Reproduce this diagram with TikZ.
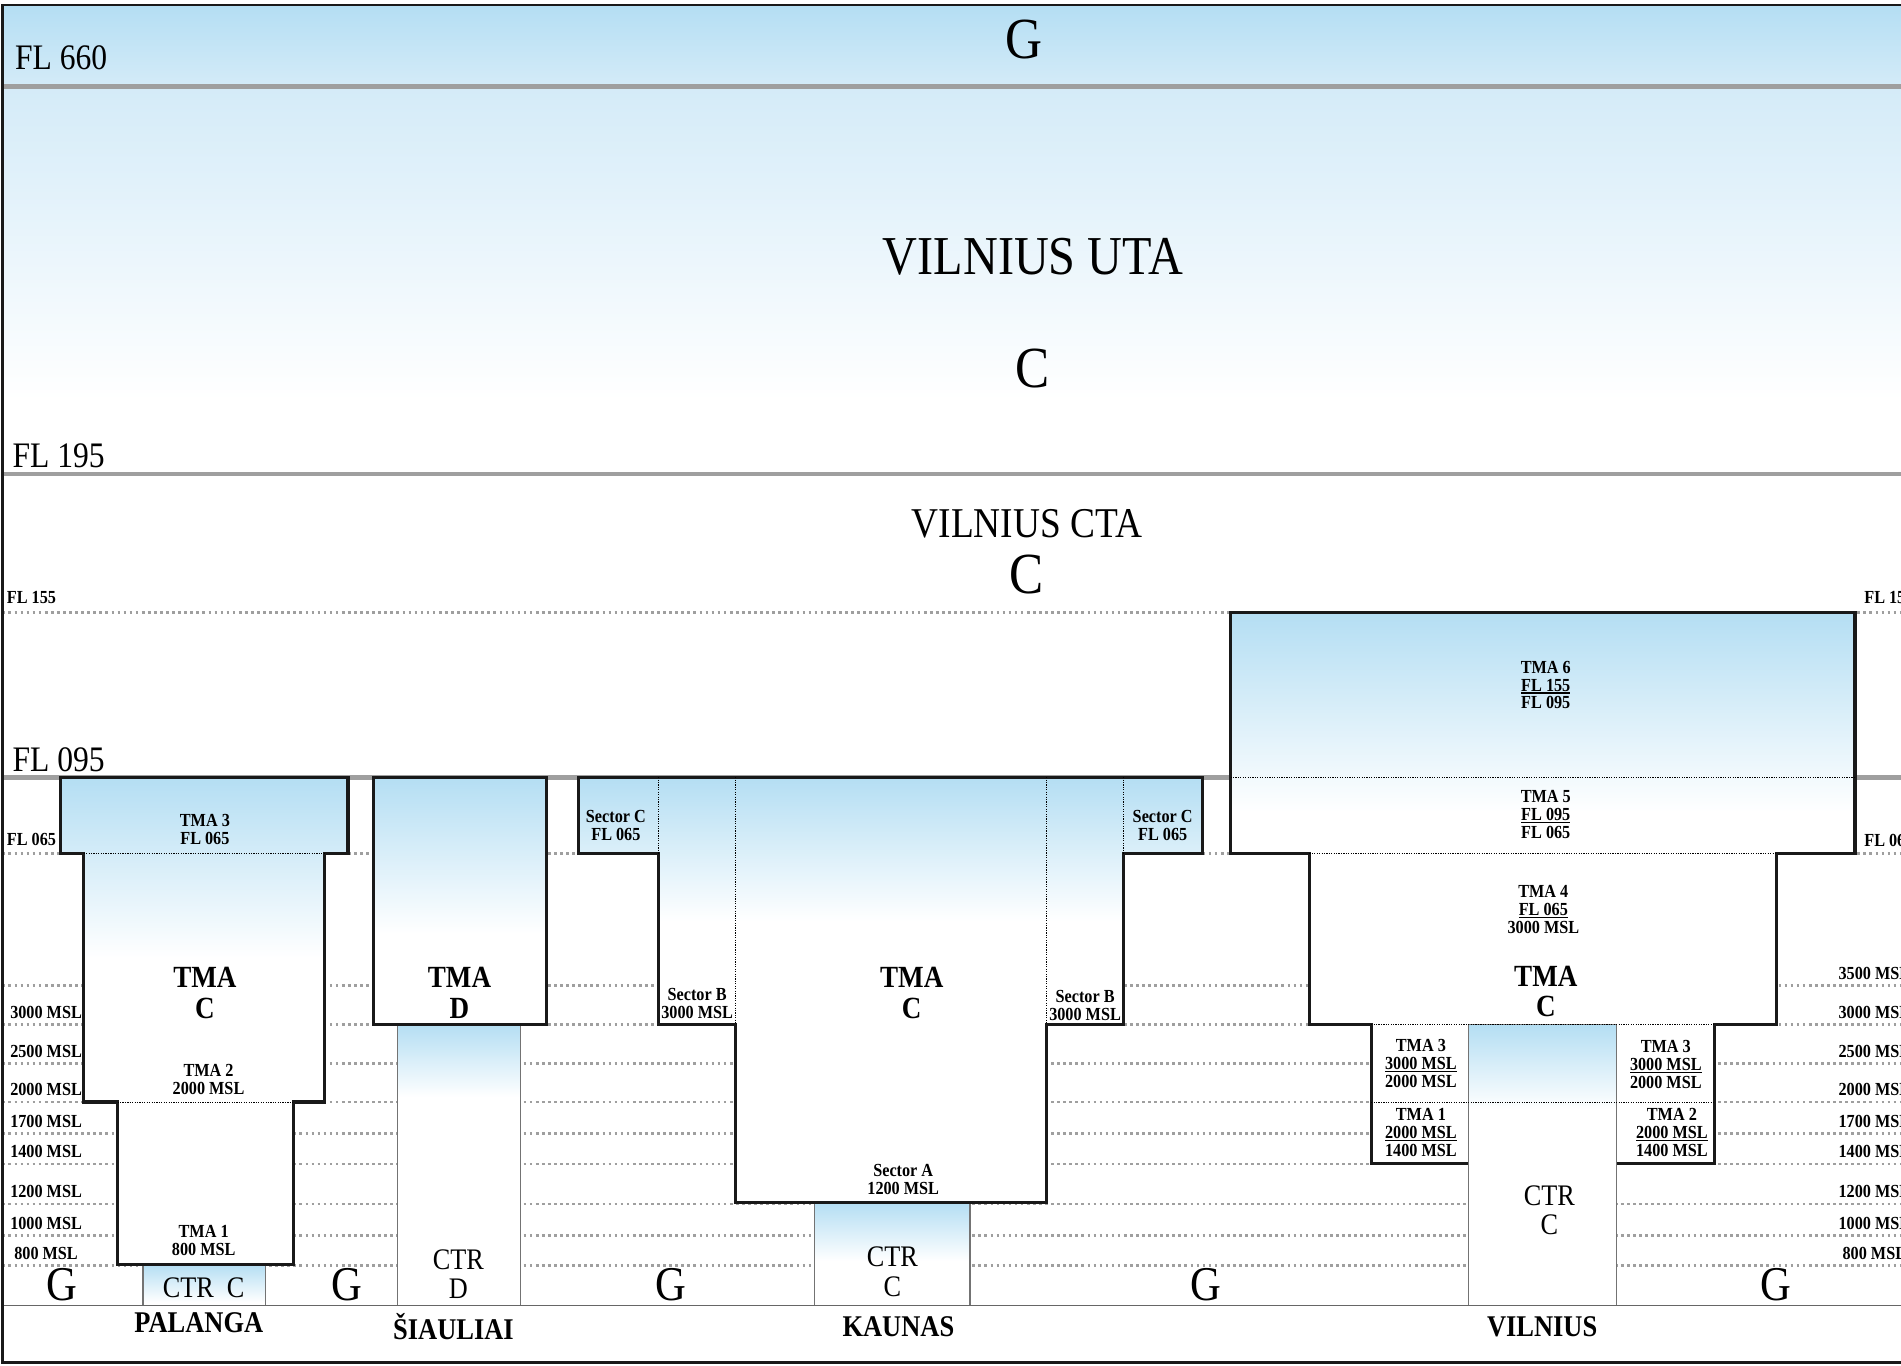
\documentclass[tikz,border=0pt]{standalone}
\usepackage{fontspec}
\setmainfont{Liberation Serif}[FakeStretch=0.88]
\definecolor{sky}{RGB}{180,222,243}
\definecolor{skylight}{RGB}{212,235,248}
\tikzset{
    %Define line and label styles
    flline/.style={draw=gray!75, line width=2pt},
    level/.style={draw=gray!75, line width=1.1pt, dash pattern=on 1.1pt off 1.4pt},
    seam/.style={draw=black, line width=0.35pt, dash pattern=on 0.5pt off 0.5pt},
    tmaline/.style={draw=black!90, line width=1.3pt},
    ctrline/.style={draw=black!55, line width=0.5pt},
    lbl/.style={font=\bfseries\fontsize{7.6}{7.4}\selectfont, align=center, inner sep=0pt},
    tmalbl/.style={font=\bfseries\fontsize{12.7}{12.5}\selectfont, align=center, inner sep=0pt},
    ctrlbl/.style={font=\fontsize{12.3}{12}\selectfont, align=center, inner sep=0pt},
    glbl/.style={font=\fontsize{20}{20}\selectfont, inner sep=0pt},
    city/.style={font=\bfseries\fontsize{12.4}{12.4}\selectfont, inner sep=0pt},
    fllbl/.style={font=\fontsize{14.8}{14.8}\selectfont, anchor=west, inner sep=0pt},
    biglbl/.style={font=\fontsize{24}{24}\selectfont, inner sep=0pt},
}

% upper limit of an area, underlined close to the baseline
\newcommand{\upper}[1]{\vtop{\hbox{#1}\kern0.5pt\hrule height0.45pt}}

% white airspace with a sky fade from #2 down to #3, outlined in style #4
\newcommand{\airspace}[4]{%
    \fill[white] #1;
    \begin{scope}
      \clip #1;
      \shade[top color=sky, bottom color=white] (0,#2) rectangle (1568,#3);
    \end{scope}
    \draw[#4] #1;}

\begin{document}
\begin{tikzpicture}[x=0.5pt, y=-0.5pt]
    \useasboundingbox (0,0) rectangle (1568,1126);
    % sky above the CTA
    \shade[top color=sky, bottom color=skylight] (2,4) rectangle (1568,71);
    \shade[top color=skylight, bottom color=white] (2,71) rectangle (1568,330);
    % flight levels and altitudes
    \foreach \y in {71,391,641}
        \draw[flline] (2,\y) -- (1568,\y);
    \foreach \y in {505,704,813,845,877,909,935,960,993,1019,1044}
        \draw[level] (2,\y) -- (1568,\y);
    % control zones
    \airspace{(118,1043) rectangle (219,1077)}{1043}{1074}{ctrline}
    \airspace{(328,845) rectangle (429,1077)}{845}{905}{ctrline}
    \airspace{(672,992) rectangle (800,1077)}{992}{1040}{ctrline}
    % terminal areas
    \airspace{(50,641) -- (287,641) -- (287,704) -- (268,704) -- (268,909) -- (242,909)
        -- (242,1043) -- (97,1043) -- (97,909) -- (69,909) -- (69,704) -- (50,704) -- cycle}{641}{790}{tmaline}
    \airspace{(308,641) rectangle (451,845)}{641}{770}{tmaline}
    \airspace{(477,641) -- (992,641) -- (992,704) -- (927,704) -- (927,845) -- (863,845)
        -- (863,992) -- (607,992) -- (607,845) -- (543,845) -- (543,704) -- (477,704) -- cycle}{641}{760}{tmaline}
    \airspace{(1015,505) -- (1530,505) -- (1530,704) -- (1465,704) -- (1465,845) -- (1414,845)
        -- (1414,960) -- (1131,960) -- (1131,845) -- (1080,845) -- (1080,704) -- (1015,704) -- cycle}{505}{670}{tmaline}
    \airspace{(1211,845) rectangle (1333,1077)}{845}{915}{ctrline}
    % sector boundaries
    \draw[seam] (69,704) -- (268,704);
    \draw[seam] (97,909) -- (242,909);
    \draw[seam] (543,641) -- (543,704);
    \draw[seam] (607,641) -- (607,845);
    \draw[seam] (863,641) -- (863,845);
    \draw[seam] (927,641) -- (927,704);
    \draw[seam] (1015,641) -- (1530,641);
    \draw[seam] (1080,704) -- (1465,704);
    \draw[seam] (1131,845) -- (1414,845);
    \draw[seam] (1131,909) -- (1414,909);
    % ground and frame
    \draw[black!60, line width=0.6pt] (2,1077) -- (1568,1077);
    \draw[black!90, line width=1.1pt] (1568,4) -- (2,4) -- (2,1124) -- (1568,1124);

    % level labels
    \node[fllbl] (fl660) at (12,48) {FL 660};
    \node[fllbl] (fl195) at (10,376) {FL 195};
    \node[fllbl] (fl095) at (10,627) {FL 095};
    \node[lbl] (left155) at (26,493) {FL 155};
    \node[lbl] (right155) at (1558,493) {FL 155};
    \node[lbl] (left065) at (26,692) {FL 065};
    \node[lbl] (right065) at (1558,693) {FL 065};
    \foreach \y/\h in {845/3000,877/2500,909/2000,935/1700,960/1400,993/1200,1019/1000,1044/800}
        \node[lbl] (left\h) at (38,\y-10) {\h\ MSL};
    \foreach \y/\h in {813/3500,845/3000,877/2500,909/2000,935/1700,960/1400,993/1200,1019/1000,1044/800}
        \node[lbl] (right\h) at (1546,\y-10) {\h\ MSL};

    % upper airspace
    \node[biglbl] (gtop) at (845,33) {G};
    \node[font=\fontsize{22.6}{22.6}\selectfont, inner sep=0pt] (uta) at (852,212) {VILNIUS UTA};
    \node[biglbl] (utaclass) at (852,304) {C};
    \node[font=\fontsize{17.5}{17.5}\selectfont, inner sep=0pt] (cta) at (847,432) {VILNIUS CTA};
    \node[biglbl] (ctaclass) at (847,474) {C};

    % Palanga
    \node[lbl] (pal3) at (169,684) {TMA 3\\FL 065};
    \node[tmalbl] (paltma) at (169,819) {TMA\\C};
    \node[lbl] (pal2) at (172,890) {TMA 2\\2000 MSL};
    \node[lbl] (pal1) at (168,1023) {TMA 1\\800 MSL};
    \node[ctrlbl] (palctr) at (168,1062) {CTR\ \ C};
    \node[city] (palanga) at (164,1091) {PALANGA};

    % Siauliai
    \node[tmalbl] (siatma) at (379,819) {TMA\\D};
    \node[ctrlbl] (siactr) at (378,1051) {CTR\\D};
    \node[city] (siauliai) at (374,1094) {ŠIAULIAI};

    % Kaunas
    \node[lbl] (kauc1) at (508,681) {Sector C\\FL 065};
    \node[lbl] (kaub1) at (575,828) {Sector B\\3000 MSL};
    \node[tmalbl] (kautma) at (752,819) {TMA\\C};
    \node[lbl] (kaua) at (745,973) {Sector A\\1200 MSL};
    \node[lbl] (kaub2) at (895,829) {Sector B\\3000 MSL};
    \node[lbl] (kauc2) at (959,681) {Sector C\\FL 065};
    \node[ctrlbl] (kauctr) at (736,1049) {CTR\\C};
    \node[city] (kaunas) at (741,1094) {KAUNAS};

    % Vilnius
    \node[lbl] (vil6) at (1275,565) {TMA 6\\\upper{FL 155}\\FL 095};
    \node[lbl] (vil5) at (1275,672) {TMA 5\\\upper{FL 095}\\FL 065};
    \node[lbl] (vil4) at (1273,750) {TMA 4\\\upper{FL 065}\\3000 MSL};
    \node[tmalbl] (viltma) at (1275,818) {TMA\\C};
    \node[lbl] (vil3w) at (1172,877) {TMA 3\\\upper{3000 MSL}\\2000 MSL};
    \node[lbl] (vil1) at (1172,934) {TMA 1\\\upper{2000 MSL}\\1400 MSL};
    \node[lbl] (vil3e) at (1374,878) {TMA 3\\\upper{3000 MSL}\\2000 MSL};
    \node[lbl] (vil2) at (1379,934) {TMA 2\\\upper{2000 MSL}\\1400 MSL};
    \node[ctrlbl] (vilctr) at (1278,998) {CTR\\C};
    \node[city] (vilnius) at (1272,1094) {VILNIUS};

    % uncontrolled airspace
    \foreach \x [count=\i] in {51,286,553,995,1465}
        \node[glbl] (g\i) at (\x,1060) {G};
\end{tikzpicture}
\end{document}
